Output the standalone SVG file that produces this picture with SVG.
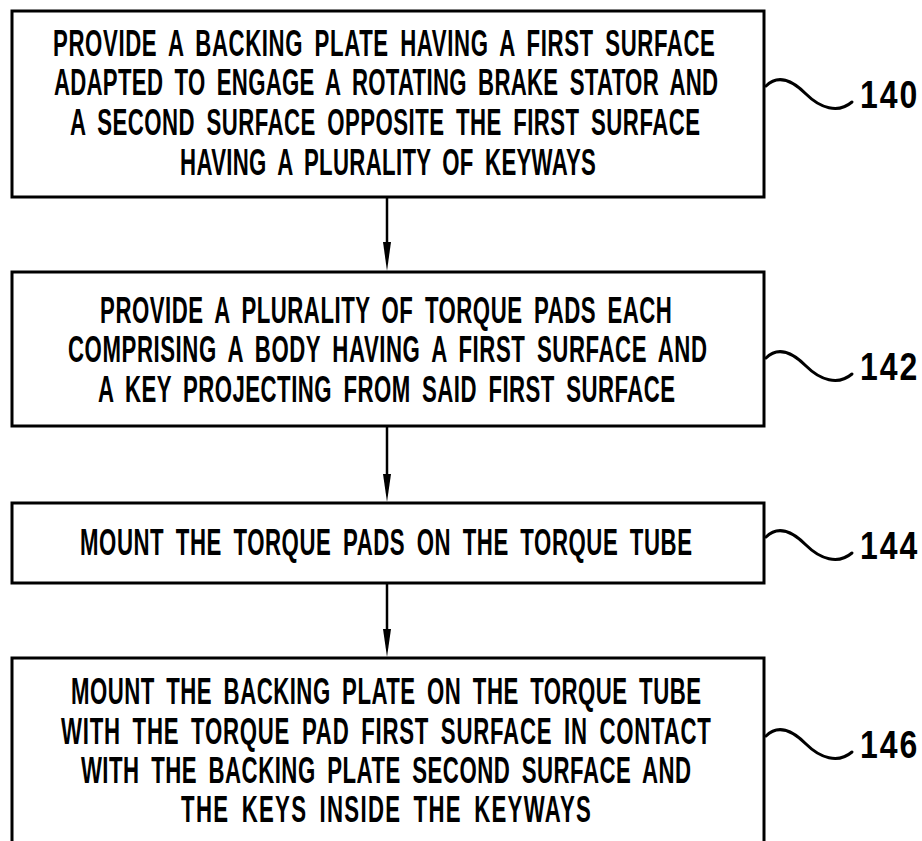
<svg xmlns="http://www.w3.org/2000/svg" width="922" height="841" viewBox="0 0 922 841">
<style>
.box{fill:#fff;stroke:#000;stroke-width:3}
.t{font-family:"Liberation Sans",Arial,sans-serif;font-weight:bold;font-size:37px;fill:#000;text-anchor:middle;word-spacing:8px}
.lbl{font-family:"Liberation Sans",Arial,sans-serif;font-weight:bold;font-size:39px;fill:#000}
.sq{fill:none;stroke:#000;stroke-width:3;stroke-linecap:round}
.ln{stroke:#000;stroke-width:2.5}
</style>
<defs>
<path id="squig" class="sq" d="M0,0 C12,-12 26,-6 40,8 C54,22 72,28 86,16"/>
</defs>
<rect width="922" height="841" fill="#fff"/>
<g id="connectors">
<line class="ln" x1="387" y1="197" x2="387" y2="242"/>
<polygon points="383,242 391,242 387,271" fill="#000"/>
<line class="ln" x1="387" y1="426" x2="387" y2="474"/>
<polygon points="383,474 391,474 387,502" fill="#000"/>
<line class="ln" x1="387" y1="583" x2="387" y2="629"/>
<polygon points="383,629 391,629 387,657" fill="#000"/>
</g>
<g id="n140">
<rect class="box" x="12" y="11" width="752" height="186"/>
<text class="t" transform="translate(384 56) scale(0.6 1)" textLength="1103" lengthAdjust="spacing">PROVIDE A BACKING PLATE HAVING A FIRST SURFACE</text>
<text class="t" transform="translate(386 95) scale(0.6 1)" textLength="1107" lengthAdjust="spacing">ADAPTED TO ENGAGE A ROTATING BRAKE STATOR AND</text>
<text class="t" transform="translate(385 135) scale(0.6 1)" textLength="1050" lengthAdjust="spacing">A SECOND SURFACE OPPOSITE THE FIRST SURFACE</text>
<text class="t" transform="translate(388 175) scale(0.6 1)" textLength="693" lengthAdjust="spacing">HAVING A PLURALITY OF KEYWAYS</text>
<use href="#squig" x="766" y="86"/>
<text class="lbl" transform="translate(860 108) scale(0.82 1)" textLength="70" lengthAdjust="spacing">140</text>
</g>
<g id="n142">
<rect class="box" x="12" y="272" width="752" height="154"/>
<text class="t" transform="translate(386 323) scale(0.6 1)" textLength="953" lengthAdjust="spacing">PROVIDE A PLURALITY OF TORQUE PADS EACH</text>
<text class="t" transform="translate(387.5 362) scale(0.6 1)" textLength="1065" lengthAdjust="spacing">COMPRISING A BODY HAVING A FIRST SURFACE AND</text>
<text class="t" transform="translate(386.5 402) scale(0.6 1)" textLength="962" lengthAdjust="spacing">A KEY PROJECTING FROM SAID FIRST SURFACE</text>
<use href="#squig" x="766" y="358"/>
<text class="lbl" transform="translate(860 380) scale(0.82 1)" textLength="70" lengthAdjust="spacing">142</text>
</g>
<g id="n144">
<rect class="box" x="12" y="503" width="752" height="80"/>
<text class="t" transform="translate(386 555) scale(0.6 1)" textLength="1020" lengthAdjust="spacing">MOUNT THE TORQUE PADS ON THE TORQUE TUBE</text>
<use href="#squig" x="766" y="537"/>
<text class="lbl" transform="translate(860 559) scale(0.82 1)" textLength="70" lengthAdjust="spacing">144</text>
</g>
<g id="n146">
<rect class="box" x="12" y="658" width="752" height="200"/>
<text class="t" transform="translate(386 704) scale(0.6 1)" textLength="1050" lengthAdjust="spacing">MOUNT THE BACKING PLATE ON THE TORQUE TUBE</text>
<text class="t" transform="translate(386 743.5) scale(0.6 1)" textLength="1083" lengthAdjust="spacing">WITH THE TORQUE PAD FIRST SURFACE IN CONTACT</text>
<text class="t" transform="translate(386 783) scale(0.6 1)" textLength="1017" lengthAdjust="spacing">WITH THE BACKING PLATE SECOND SURFACE AND</text>
<text class="t" transform="translate(386 822) scale(0.6 1)" textLength="683" lengthAdjust="spacing">THE KEYS INSIDE THE KEYWAYS</text>
<use href="#squig" x="766" y="736"/>
<text class="lbl" transform="translate(860 758) scale(0.82 1)" textLength="70" lengthAdjust="spacing">146</text>
</g>
</svg>
